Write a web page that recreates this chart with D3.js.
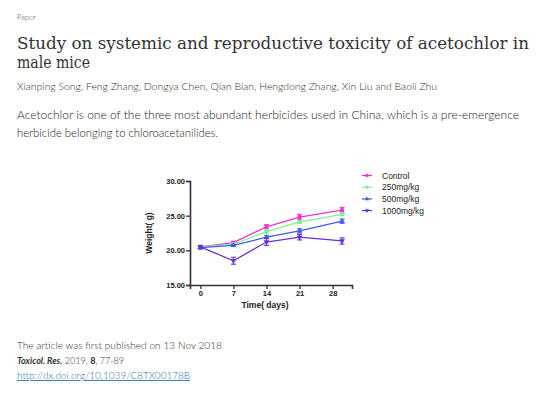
<!DOCTYPE html>
<html><head><meta charset="utf-8">
<script src="https://cdn.jsdelivr.net/npm/d3@7"></script>
<style>body{margin:0;background:#fff;}svg{display:block;}</style>
</head><body>
<script>
const days = [0, 7, 14, 21, 30];
const xTicks = [0, 7, 14, 21, 28];
const yTicks = [15, 20, 25, 30];
const seriesNames = ["Control", "250mg/kg", "500mg/kg", "1000mg/kg"];
const control = [20.5, 21.1, 23.4, 24.8, 25.8];
const mg250 = [20.5, 20.9, 22.7, 24.1, 25.2];
const mg500 = [20.4, 20.7, 21.9, 22.8, 24.2];
const mg1000 = [20.5, 18.5, 21.2, 21.9, 21.35];
const controlErr = [0.2, 0.2, 0.3, 0.4, 0.4];
const mg250Err = [0.15, 0.15, 0.2, 0.2, 0.2];
const mg500Err = [0.2, 0.15, 0.2, 0.3, 0.3];
const mg1000Err = [0.2, 0.5, 0.5, 0.4, 0.45];
const colors = ["#f030d0", "#80f090", "#3d5ce8", "#6a2fd8"];
const symbols = [d3.symbolSquare, d3.symbolCircle, d3.symbolTriangle, d3.symbolTriangle];

const W = 551, H = 397;
const svg = d3.select("body").append("svg").attr("width", W).attr("height", H);

// header text
const sans = "Lato, 'Open Sans', sans-serif";
svg.append("text").attr("x", 17).attr("y", 20).attr("font-family", sans).attr("font-weight", 300).attr("font-size", 7.5).attr("fill", "#444").text("Paper");
svg.append("text").attr("x", 17).attr("y", 49).attr("font-family", "'DejaVu Serif', serif").attr("font-size", 17).attr("fill", "#333")
  .attr("textLength", 512).attr("lengthAdjust", "spacingAndGlyphs")
  .text("Study on systemic and reproductive toxicity of acetochlor in");
svg.append("text").attr("x", 17).attr("y", 68).attr("font-family", "'DejaVu Serif', serif").attr("font-size", 17).attr("fill", "#333")
  .attr("textLength", 73).attr("lengthAdjust", "spacingAndGlyphs")
  .text("male mice");
svg.append("text").attr("x", 17).attr("y", 90).attr("font-family", sans).attr("font-weight", 300).attr("font-size", 9).attr("fill", "#333")
  .attr("textLength", 420).attr("lengthAdjust", "spacingAndGlyphs")
  .text("Xianping Song, Feng Zhang, Dongya Chen, Qian Bian, Hengdong Zhang, Xin Liu and Baoli Zhu");
svg.append("text").attr("x", 17).attr("y", 119).attr("font-family", sans).attr("font-weight", 300).attr("font-size", 11.5).attr("fill", "#222")
  .attr("textLength", 502).attr("lengthAdjust", "spacingAndGlyphs")
  .text("Acetochlor is one of the three most abundant herbicides used in China, which is a pre-emergence");
svg.append("text").attr("x", 17).attr("y", 137).attr("font-family", sans).attr("font-weight", 300).attr("font-size", 11.5).attr("fill", "#222")
  .attr("textLength", 201).attr("lengthAdjust", "spacingAndGlyphs")
  .text("herbicide belonging to chloroacetanilides.");

// footer
svg.append("text").attr("x", 17).attr("y", 349).attr("font-family", sans).attr("font-weight", 300).attr("font-size", 9).attr("fill", "#333")
  .attr("textLength", 205).attr("lengthAdjust", "spacingAndGlyphs")
  .text("The article was first published on 13 Nov 2018");
const cit = svg.append("text").attr("x", 17).attr("y", 364).attr("font-family", sans).attr("font-weight", 300).attr("font-size", 9).attr("fill", "#333");
cit.append("tspan").attr("font-style", "italic").attr("font-weight", "bold").text("Toxicol. Res.");
cit.append("tspan").text(" 2019, ");
cit.append("tspan").attr("font-weight", "bold").text("8");
cit.append("tspan").text(", 77-89");
svg.append("text").attr("x", 17).attr("y", 379).attr("font-family", sans).attr("font-weight", 300).attr("font-size", 9).attr("fill", "#2a6fb5")
  .attr("text-decoration", "underline")
  .attr("textLength", 173).attr("lengthAdjust", "spacingAndGlyphs")
  .text("http://dx.doi.org/10.1039/C8TX00178B");

// chart
const x = d3.scaleLinear().domain([-2.2, 32.1]).range([190, 352]);
const y = d3.scaleLinear().domain([15, 30]).range([285, 181]);
const cf = "'Liberation Sans', Arial, sans-serif";

const gx = svg.append("g").attr("transform", "translate(0,285)")
  .call(d3.axisBottom(x).tickValues(xTicks).tickSize(4).tickPadding(2).tickFormat(d3.format("d")));
const gy = svg.append("g").attr("transform", "translate(190,0)")
  .call(d3.axisLeft(y).tickValues(yTicks).tickSize(4).tickPadding(1).tickFormat(d3.format(".2f")));
[gx, gy].forEach(g => {
  g.select(".domain").attr("stroke", "#333").attr("stroke-width", 1.6);
  g.selectAll(".tick line").attr("stroke", "#333").attr("stroke-width", 1.3);
  g.selectAll(".tick text").attr("font-family", cf).attr("font-size", 7.5).attr("font-weight", "bold").attr("fill", "#222");
});
svg.append("text").attr("x", 265).attr("y", 308).attr("text-anchor", "middle")
  .attr("font-family", cf).attr("font-size", 8.5).attr("font-weight", "bold").attr("fill", "#222").text("Time( days)");
svg.append("text").attr("transform", "translate(152,233) rotate(-90)").attr("text-anchor", "middle")
  .attr("font-family", cf).attr("font-size", 8.5).attr("font-weight", "bold").attr("fill", "#222").text("Weight( g)");

const series = [control, mg250, mg500, mg1000];
const errs = [controlErr, mg250Err, mg500Err, mg1000Err];
const line = d3.line().x((d, i) => x(days[i])).y(d => y(d));
series.forEach((vals, si) => {
  const g = svg.append("g");
  g.append("path").datum(vals).attr("d", line).attr("fill", "none").attr("stroke", colors[si]).attr("stroke-width", 1.3);
  vals.forEach((v, i) => {
    const cx = x(days[i]), e = errs[si][i];
    g.append("line").attr("x1", cx).attr("x2", cx).attr("y1", y(v - e)).attr("y2", y(v + e)).attr("stroke", colors[si]).attr("stroke-width", 1.1);
    [v - e, v + e].forEach(b => g.append("line").attr("x1", cx - 2.5).attr("x2", cx + 2.5).attr("y1", y(b)).attr("y2", y(b)).attr("stroke", colors[si]).attr("stroke-width", 1.1));
    g.append("path").attr("d", d3.symbol(symbols[si], 14)())
      .attr("transform", `translate(${cx},${y(v)})` + (si === 3 ? " rotate(180)" : ""))
      .attr("fill", colors[si]);
  });
});

// legend
seriesNames.forEach((n, i) => {
  const ly = 175.5 + i * 11.7;
  svg.append("line").attr("x1", 362).attr("x2", 372).attr("y1", ly).attr("y2", ly).attr("stroke", colors[i]).attr("stroke-width", 1.2);
  svg.append("path").attr("d", d3.symbol(symbols[i], 8)()).attr("transform", `translate(367,${ly})` + (i === 3 ? " rotate(180)" : "")).attr("fill", colors[i]);
  svg.append("text").attr("x", 382).attr("y", ly + 3).attr("font-family", cf).attr("font-size", 8.5).attr("fill", "#222").text(n);
});
</script>
</body></html>
